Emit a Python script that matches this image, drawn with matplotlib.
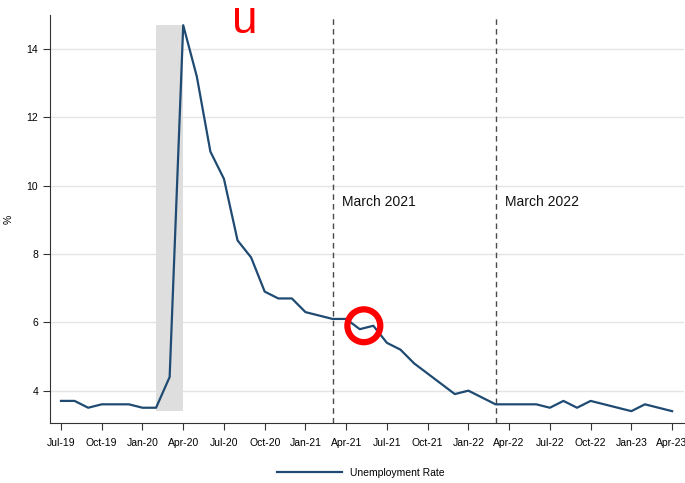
import matplotlib.pyplot as plt
import numpy as np

plt.rcParams["font.family"] = ["Liberation Sans", "DejaVu Sans"]

# monthly series Jul-19 .. Apr-23
RATE = [
    3.7, 3.7, 3.5, 3.6, 3.6, 3.6, 3.5, 3.5, 4.4, 14.7,   # Jul-19 .. Apr-20
    13.2, 11.0, 10.2, 8.4, 7.9, 6.9, 6.7, 6.7, 6.3, 6.2,  # May-20 .. Feb-21
    6.1, 6.1, 5.8, 5.9, 5.4, 5.2, 4.8, 4.5, 4.2, 3.9,     # Mar-21 .. Dec-21
    4.0, 3.8, 3.6, 3.6, 3.6, 3.6, 3.5, 3.7, 3.5, 3.7,     # Jan-22 .. Oct-22
    3.6, 3.5, 3.4, 3.6, 3.5, 3.4,                         # Nov-22 .. Apr-23
]
TICK_LABELS = ["Jul-19", "Oct-19", "Jan-20", "Apr-20", "Jul-20", "Oct-20", "Jan-21",
               "Apr-21", "Jul-21", "Oct-21", "Jan-22", "Apr-22", "Jul-22", "Oct-22",
               "Jan-23", "Apr-23"]
SHADE_MONTHS = (7, 9)          # Feb-20 .. Apr-20
SHADE_RANGE = (3.4, 14.7)
EVENT_MONTHS = [20, 32]        # Mar-21, Mar-22
EVENT_LABELS = ["March 2021", "March 2022"]
LINE_COLOR = "#1f4a72"

x = np.arange(len(RATE))

fig = plt.figure(figsize=(6.85, 4.83), dpi=100)
ax = fig.add_axes([0.073, 0.124, 0.926, 0.845])

ax.fill_between(SHADE_MONTHS, SHADE_RANGE[0], SHADE_RANGE[1], color="#dedede", lw=0, zorder=1)
for m, lab in zip(EVENT_MONTHS, EVENT_LABELS):
    ax.axvline(m, color="#4a4a4a", lw=1, ls=(0, (4, 3)), zorder=2)
    ax.text(m + 0.7, 9.53, lab, fontsize=10, va="center", ha="left", color="#111111")

ax.plot(x, RATE, color=LINE_COLOR, lw=1.6, zorder=3, label="Unemployment Rate")

# red annotation marks
ax.scatter([22.3], [5.9], s=560, facecolors="none", edgecolors="#ff0000", linewidths=4.5,
           zorder=4, clip_on=False)
fig.text(245 / 685, 1 - 21 / 483, "u", color="#ff0000", fontsize=33, ha="center", va="center")

ax.set_xlim(-0.81, 45.9)
ax.set_ylim(3.05, 15.0)
ax.set_xticks(np.arange(0, len(RATE), 3))
ax.set_xticklabels(TICK_LABELS, fontsize=7.5)
ax.set_yticks([4, 6, 8, 10, 12, 14])
ax.tick_params(axis="y", labelsize=7.5, length=5, color="#333333")
ax.tick_params(axis="x", length=5, color="#333333", pad=6)
ax.grid(axis="y", color="#e4e4e4", lw=1)
ax.set_axisbelow(True)
ax.set_ylabel("%", fontsize=7.5, labelpad=9)
for s in ["top", "right"]:
    ax.spines[s].set_visible(False)
for s in ["left", "bottom"]:
    ax.spines[s].set_color("#333333")

fig.legend(loc="center", bbox_to_anchor=(0.527, 0.021), frameon=False, fontsize=7.5,
           handlelength=6.2)

fig.savefig("out.png", dpi=100)
